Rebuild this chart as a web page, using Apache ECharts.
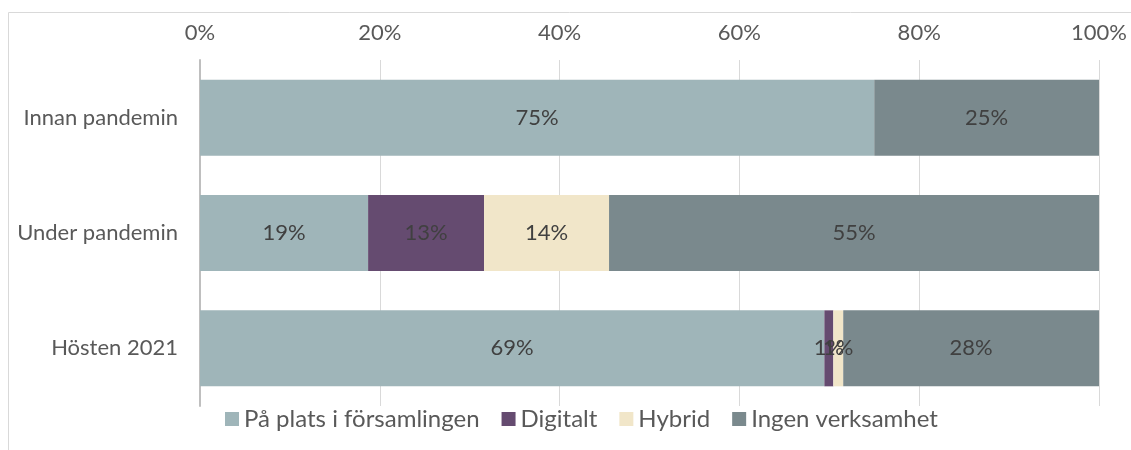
<!DOCTYPE html>
<html>
<head>
<meta charset="utf-8">
<script src="https://cdn.jsdelivr.net/npm/echarts@6/dist/echarts.min.js"></script>
<style>
  html, body { margin: 0; padding: 0; background: #fff; }
  #chart { width: 1131px; height: 450px; }
</style>
</head>
<body>
<div id="chart"></div>
<script>
// categories (top to bottom)
const categories = ['Innan pandemin', 'Under pandemin', 'Hösten 2021'];

// series values, percent
const paPlats = [75, 18.7, 69.45];
const digitalt = [0, 12.9, 1.0];
const hybrid = [0, 13.9, 1.1];
const ingen = [25, 54.6, 28.45];

const seriesNames = ['På plats i församlingen', 'Digitalt', 'Hybrid', 'Ingen verksamhet'];
const seriesColors = ['#9fb5b9', '#654b70', '#f1e6c9', '#7a898d'];

const chart = echarts.init(document.getElementById('chart'));

const textColor = '#595959';
const fontFamily = 'Lato, "Open Sans", sans-serif';

// build one stacked bar series
const makeSeries = (name, data, color) => ({
  name: name,
  type: 'bar',
  stack: 'total',
  data: data,
  barWidth: 76,
  itemStyle: { color: color },
  label: {
    show: true,
    position: 'inside',
    color: '#404040',
    fontSize: 22,
    fontFamily: fontFamily,
    formatter: p => (p.value > 0 ? Math.round(p.value) + '%' : '')
  },
  emphasis: { disabled: true }
});

const option = {
  animation: false,
  textStyle: { fontFamily: fontFamily },
  // thin frame around the chart area
  graphic: [
    {
      type: 'polyline',
      shape: { points: [[8.5, 450], [8.5, 12.5], [1131, 12.5]] },
      style: { stroke: '#d9d9d9', lineWidth: 1, fill: null },
      silent: true
    }
  ],
  grid: {
    left: 200,
    right: 32,
    top: 60,
    bottom: 44
  },
  legend: {
    bottom: 14,
    left: 220,
    itemWidth: 14,
    itemHeight: 14,
    itemGap: 22,
    icon: 'rect',
    textStyle: { color: textColor, fontSize: 24, fontFamily: fontFamily },
    data: seriesNames
  },
  xAxis: {
    type: 'value',
    position: 'top',
    min: 0,
    max: 100,
    interval: 20,
    axisLine: { show: false },
    axisTick: { show: false },
    axisLabel: {
      color: textColor,
      fontSize: 22,
      margin: 16,
      formatter: '{value}%'
    },
    splitLine: { lineStyle: { color: '#d9d9d9', width: 1 } }
  },
  yAxis: {
    type: 'category',
    inverse: true,
    data: categories,
    axisLine: { show: true, lineStyle: { color: '#bfbfbf', width: 2 } },
    axisTick: { show: false },
    axisLabel: {
      color: textColor,
      fontSize: 22,
      margin: 22
    }
  },
  series: [
    makeSeries(seriesNames[0], paPlats, seriesColors[0]),
    makeSeries(seriesNames[1], digitalt, seriesColors[1]),
    makeSeries(seriesNames[2], hybrid, seriesColors[2]),
    makeSeries(seriesNames[3], ingen, seriesColors[3])
  ]
};

chart.setOption(option);
</script>
</body>
</html>
